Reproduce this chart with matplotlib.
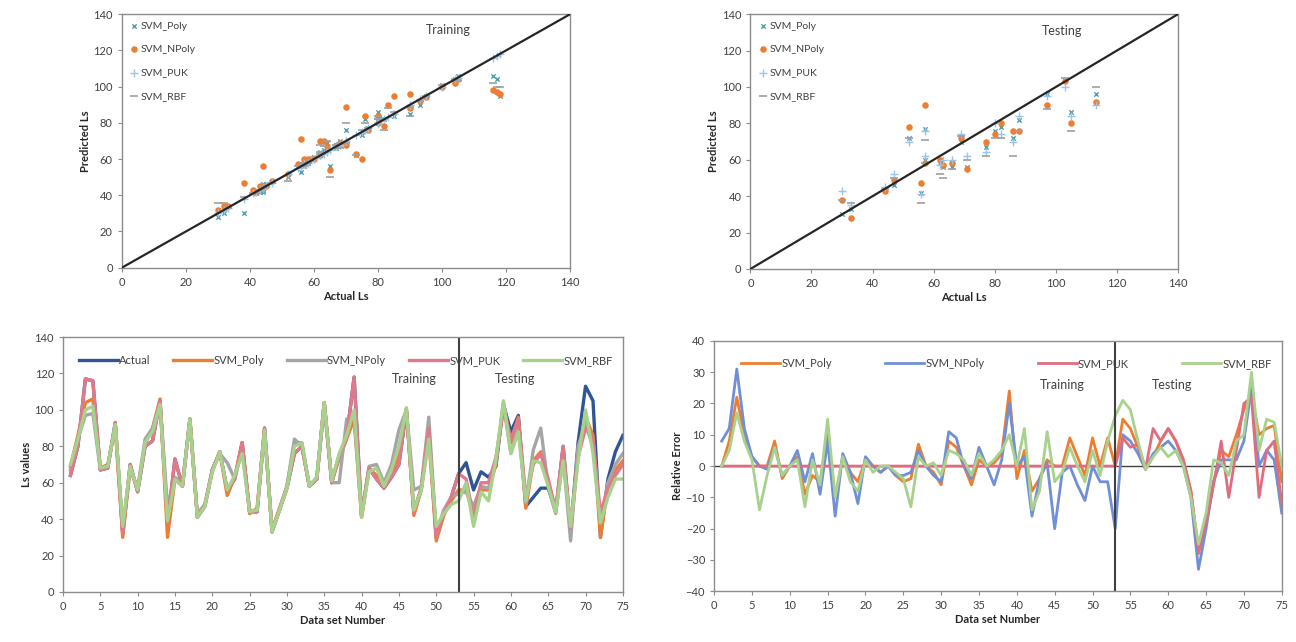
import matplotlib
matplotlib.use('Agg')
import matplotlib.pyplot as plt
import numpy as np

plt.rcParams['font.family'] = ['Lato', 'DejaVu Sans']

# data set number 1..75, 1-53 training, 54-75 testing
data_no = list(range(1, 76))
n_train = 53

actual = [64, 80, 117, 116, 67, 68, 93, 32, 70, 55, 80, 83, 105, 38, 73, 58, 95, 41, 47, 67,
          77, 56, 62, 82, 44, 44, 90, 33, 45, 57, 76, 80, 58, 62, 104, 60, 75, 85, 118, 42,
          68, 62, 57, 63, 70, 100, 44, 57, 90, 30, 43, 52, 65,
          71, 56, 66, 63, 69, 103, 88, 97, 47, 52, 57, 57, 44, 80, 33, 82, 113, 105, 30, 62, 77, 86]
svm_poly = [69, 86, 104, 106, 68, 70, 90, 30, 68, 56, 82, 90, 106, 30, 62, 58, 95, 42, 48, 66,
            77, 53, 63, 82, 43, 46, 89, 34, 46, 58, 82, 82, 58, 63, 104, 61, 73, 84, 95, 41,
            68, 64, 58, 65, 76, 101, 42, 56, 85, 28, 42, 50, 56,
            56, 42, 56, 56, 70, 104, 82, 96, 46, 72, 77, 60, 44, 76, 33, 78, 96, 86, 30, 58, 67, 72]
svm_npoly = [67, 84, 97, 98, 67, 69, 92, 34, 68, 57, 84, 90, 104, 47, 63, 60, 94, 43, 48, 67,
             76, 71, 62, 78, 45, 44, 88, 34, 45, 58, 84, 80, 59, 62, 102, 60, 60, 95, 96, 42,
             69, 70, 60, 70, 89, 100, 56, 58, 96, 32, 45, 52, 54,
             55, 47, 58, 57, 72, 103, 76, 90, 49, 78, 90, 58, 43, 74, 28, 80, 92, 80, 38, 60, 70, 76]
svm_puk = [64, 80, 117, 116, 67, 68, 93, 32, 70, 55, 80, 83, 105, 38, 73, 58, 95, 41, 47, 67,
           77, 56, 62, 82, 44, 44, 90, 33, 45, 57, 76, 80, 58, 62, 104, 60, 75, 85, 118, 42,
           68, 62, 57, 63, 70, 100, 44, 57, 90, 30, 43, 52, 65,
           62, 41, 60, 60, 74, 100, 84, 95, 52, 70, 76, 62, 45, 80, 35, 74, 90, 84, 43, 57, 64, 70]
svm_rbf = [70, 84, 100, 102, 68, 69, 92, 36, 69, 56, 82, 88, 103, 39, 62, 58, 95, 41, 47, 66,
           77, 56, 64, 76, 44, 45, 89, 33, 45, 57, 80, 82, 58, 63, 104, 61, 76, 86, 100, 41,
           66, 68, 58, 67, 80, 101, 45, 56, 84, 36, 43, 48, 50,
           60, 36, 55, 50, 73, 105, 76, 88, 50, 72, 71, 58, 44, 72, 36, 72, 100, 76, 38, 52, 62, 62]

# relative error (%)
re_poly = [0, 8, 22, 10, 3, 0, 0, 8, -4, 0, 3, -9, -3, -5, 10, -10, 3, -2, -5, 2,
           0, -2, 0, -3, -5, -4, 7, 0, -2, -6, 8, 6, 0, -6, 2, 0, 1, 4, 24, -4,
           5, -8, -4, 2, 0, 0, 9, 3, -3, 9, 0, 9, 0,
           15, 12, 6, -1, 3, 8, 12, 8, 2, -8, -28, -18, -5, 5, 3, 10, 18, 23, 10, 12, 13, -5]
re_npoly = [8, 12, 31, 12, 3, 0, -1, 6, -3, 0, 5, -5, 4, -9, 8, -16, 4, -2, -12, 3,
            0, -2, 0, -3, -3, -2, 5, 0, -3, -5, 11, 9, 0, -4, 6, 0, -6, 2, 20, 0,
            3, -16, -4, 1, -20, -2, 0, -6, -11, 0, -5, -5, -20,
            10, 8, 4, -1, 4, 6, 8, 5, 0, -10, -33, -20, -5, 2, 2, 2, 8, 25, 0, 5, 2, -15]
re_puk = [0] * 53 + [9, 6, 7, -1, 12, 8, 12, 8, 2, -8, -27, -18, -6, 8, -10, 5, 20, 22, -10, 5, 8, -12]
re_rbf = [0, 5, 17, 8, 2, -14, -3, 6, -3, 0, 2, -13, 2, -6, 15, -10, 3, -5, -8, 2,
          -2, 0, 0, -2, -4, -13, 3, 0, 1, -3, 5, 4, 2, -3, 4, 0, 2, 5, 10, 0,
          12, -14, -8, 11, -5, -2, 6, 0, -5, 5, -3, 8, 16,
          21, 18, 8, -1, 3, 6, 3, 5, 0, -10, -25, -15, 2, 1, -3, 8, 10, 30, 5, 15, 14, 0]

model_names = ['SVM_Poly', 'SVM_NPoly', 'SVM_PUK', 'SVM_RBF']
models = [svm_poly, svm_npoly, svm_puk, svm_rbf]

fig = plt.figure(figsize=(12.96, 6.42), dpi=100)

frame_col = '#8c8c8c'
tick_col = '#404040'


def style_axes(ax):
    for sp in ax.spines.values():
        sp.set_color(frame_col)
        sp.set_linewidth(1.0)
    ax.tick_params(direction='out', length=3, width=0.8, color=frame_col,
                   labelsize=8, labelcolor=tick_col)


# scatter plots
sc_styles = [
    dict(marker='x', s=10, color='#4f9fb0', linewidths=1.0),
    dict(marker='o', s=22, color='#ED7D31', linewidths=0),
    dict(marker='+', s=28, color='#9dc3e6', linewidths=1.0),
    dict(marker='_', s=28, color='#a0a0a0', linewidths=1.2),
]

sc_axes = [fig.add_axes([0.094, 0.583, 0.346, 0.395]),
           fig.add_axes([0.579, 0.581, 0.330, 0.397])]
for k, ax in enumerate(sc_axes):
    if k == 0:
        xs = actual[:n_train]
        sl = slice(0, n_train)
        lab = 'Training'
    else:
        xs = actual[n_train:]
        sl = slice(n_train, None)
        lab = 'Testing'
    for name, vals, st in zip(model_names, models, sc_styles):
        ax.scatter(xs, vals[sl], label=name, zorder=3, **st)
    ax.plot([0, 140], [0, 140], color='#262626', lw=1.6, zorder=4)
    ax.set_xlim(0, 140)
    ax.set_ylim(0, 140)
    ax.set_xticks(range(0, 141, 20))
    ax.set_yticks(range(0, 141, 20))
    ax.set_xlabel('Actual Ls', fontsize=8, fontweight='bold', color='#262626', labelpad=2)
    ax.set_ylabel('Predicted Ls', fontsize=8, fontweight='bold', color='#262626', labelpad=2)
    ax.text(102, 131, lab, fontsize=9, color='#404040', ha='center', va='center')
    style_axes(ax)
    ax.legend(loc='upper left', frameon=False, fontsize=7.5, handletextpad=0.1,
              labelspacing=1.35, borderaxespad=0.3, handlelength=1.0, labelcolor='#404040')

# Ls values lines
ax3 = fig.add_axes([0.0486, 0.078, 0.432, 0.397])
line_cols = ['#2F5597', '#ED7D31', '#A5A5A5', '#E07A8A', '#A9D18E']
line_names = ['Actual'] + model_names
for name, vals, c in zip(line_names, [actual] + models, line_cols):
    ax3.plot(data_no, vals, color=c, lw=2.4, label=name, solid_joinstyle='round')
ax3.axvline(53, color='#404040', lw=1.5)
ax3.set_xlim(0, 75)
ax3.set_ylim(0, 140)
ax3.set_xticks(range(0, 76, 5))
ax3.set_yticks(range(0, 141, 20))
ax3.set_xlabel('Data set Number', fontsize=8, fontweight='bold', color='#262626', labelpad=2)
ax3.set_ylabel('Ls values', fontsize=8, fontweight='bold', color='#262626', labelpad=2)
ax3.text(47, 117, 'Training', fontsize=9, color='#404040', ha='center', va='center')
ax3.text(60.5, 117, 'Testing', fontsize=9, color='#404040', ha='center', va='center')
style_axes(ax3)
ax3.legend(loc='lower left', bbox_to_anchor=(0.02, 0.87, 0.97, 0.12), mode='expand', ncol=5,
           frameon=False, fontsize=8, handlelength=3.5, handletextpad=0.1,
           borderaxespad=0, labelcolor='#404040')

# relative error lines
ax4 = fig.add_axes([0.551, 0.079, 0.438, 0.390])
err_cols = ['#ED7D31', '#6F8FD6', '#E06C80', '#A9D18E']
for name, vals, c in zip(model_names, [re_poly, re_npoly, re_puk, re_rbf], err_cols):
    ax4.plot(data_no, vals, color=c, lw=2.0, label=name, solid_joinstyle='round')
ax4.axhline(0, color='#404040', lw=1.0, zorder=1)
ax4.axvline(53, color='#404040', lw=1.5)
ax4.set_xlim(0, 75)
ax4.set_ylim(-40, 40)
ax4.set_xticks(range(0, 76, 5))
ax4.set_yticks(range(-40, 41, 10))
ax4.set_xlabel('Data set Number', fontsize=8, fontweight='bold', color='#262626', labelpad=2)
ax4.set_ylabel('Relative Error', fontsize=8, fontweight='bold', color='#262626', labelpad=2)
ax4.text(46, 26, 'Training', fontsize=9, color='#404040', ha='center', va='center')
ax4.text(60.5, 26, 'Testing', fontsize=9, color='#404040', ha='center', va='center')
style_axes(ax4)
ax4.legend(loc='lower left', bbox_to_anchor=(0.04, 0.87, 0.95, 0.12), mode='expand', ncol=4,
           frameon=False, fontsize=8, handlelength=3.5, handletextpad=0.1,
           borderaxespad=0, labelcolor='#404040')

fig.savefig('out.png', dpi=100)
